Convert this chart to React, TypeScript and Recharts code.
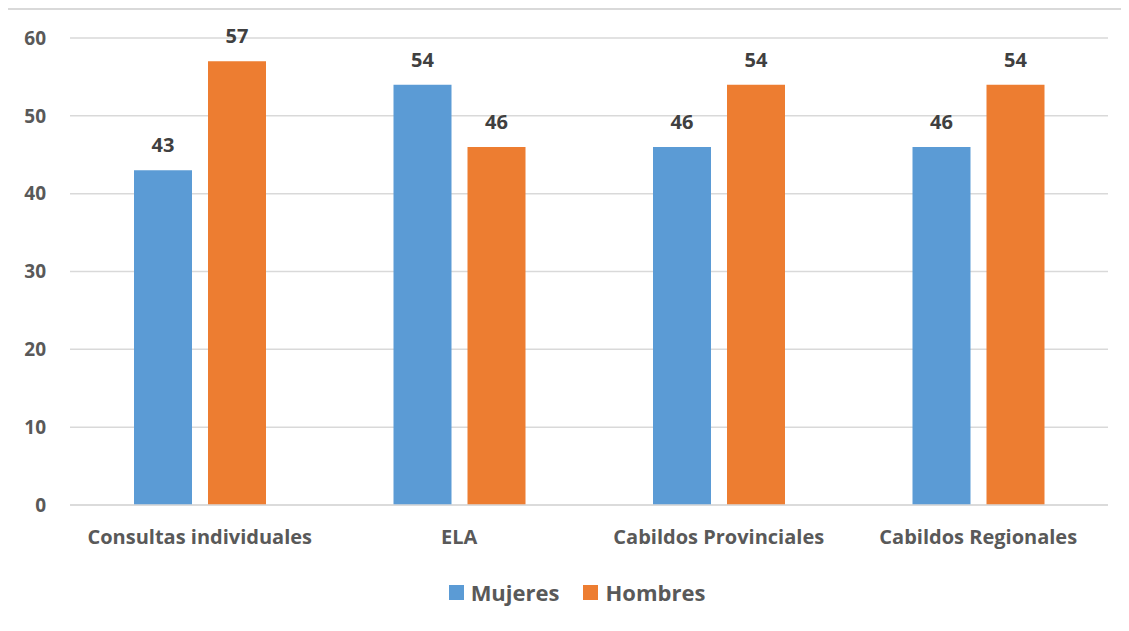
import React from 'react';
import { BarChart, Bar, XAxis, YAxis, CartesianGrid, Legend, LabelList } from 'recharts';

const categories = ['Consultas individuales', 'ELA', 'Cabildos Provinciales', 'Cabildos Regionales'];
const mujeres = [43, 54, 46, 46];
const hombres = [57, 46, 54, 54];
const yTicks = [0, 10, 20, 30, 40, 50, 60];

const SERIES = [
  { key: 'mujeres', name: 'Mujeres', color: '#5B9BD5' },
  { key: 'hombres', name: 'Hombres', color: '#ED7D31' },
];

const data = categories.map((c, i) => ({ name: c, mujeres: mujeres[i], hombres: hombres[i] }));

const FONT = '"Open Sans", Lato, sans-serif';

const renderLegend = () => (
  <div
    style={{
      display: 'flex',
      justifyContent: 'center',
      alignItems: 'center',
      height: 30,
      paddingLeft: 46,
      fontFamily: FONT,
    }}
  >
    {SERIES.map((s) => (
      <div key={s.key} style={{ display: 'flex', alignItems: 'center', margin: '0 12px' }}>
        <span style={{ width: 15, height: 15, background: s.color, display: 'inline-block', marginRight: 7 }} />
        <span style={{ fontSize: 22, fontWeight: 700, color: '#595959' }}>{s.name}</span>
      </div>
    ))}
  </div>
);

export default function App() {
  return (
    <div style={{ position: 'relative', width: 1129, height: 631, margin: -8, overflow: 'hidden', background: '#fff' }}>
      <div
        style={{
          position: 'absolute',
          left: 5,
          top: 8,
          width: 1200,
          height: 700,
          borderLeft: '2px solid #d9d9d9',
          borderTop: '2px solid #d9d9d9',
        }}
      />
      <BarChart
        width={1129}
        height={631}
        data={data}
        margin={{ top: 38, right: 21, left: 0, bottom: 24 }}
        barSize={58}
        barGap={16}
        style={{ fontFamily: FONT }}
      >
        <CartesianGrid vertical={false} stroke="#d9d9d9" strokeWidth={1.5} />
        <XAxis
          dataKey="name"
          height={72}
          tickLine={false}
          axisLine={{ stroke: '#d9d9d9', strokeWidth: 1.5 }}
          tickMargin={19}
          tick={{ fill: '#595959', fontSize: 20, fontWeight: 700 }}
          interval={0}
        />
        <YAxis
          width={70}
          domain={[0, 60]}
          ticks={yTicks}
          tickLine={false}
          axisLine={false}
          tickSize={0}
          tickMargin={24}
          tick={{ fill: '#595959', fontSize: 19, fontWeight: 700 }}
        />
        <Legend verticalAlign="bottom" content={renderLegend} />
        {SERIES.map((s) => (
          <Bar key={s.key} dataKey={s.key} name={s.name} fill={s.color} isAnimationActive={false}>
            <LabelList
              dataKey={s.key}
              position="top"
              offset={18}
              style={{ fill: '#404040', fontSize: 20, fontWeight: 700, fontFamily: FONT }}
            />
          </Bar>
        ))}
      </BarChart>
    </div>
  );
}
